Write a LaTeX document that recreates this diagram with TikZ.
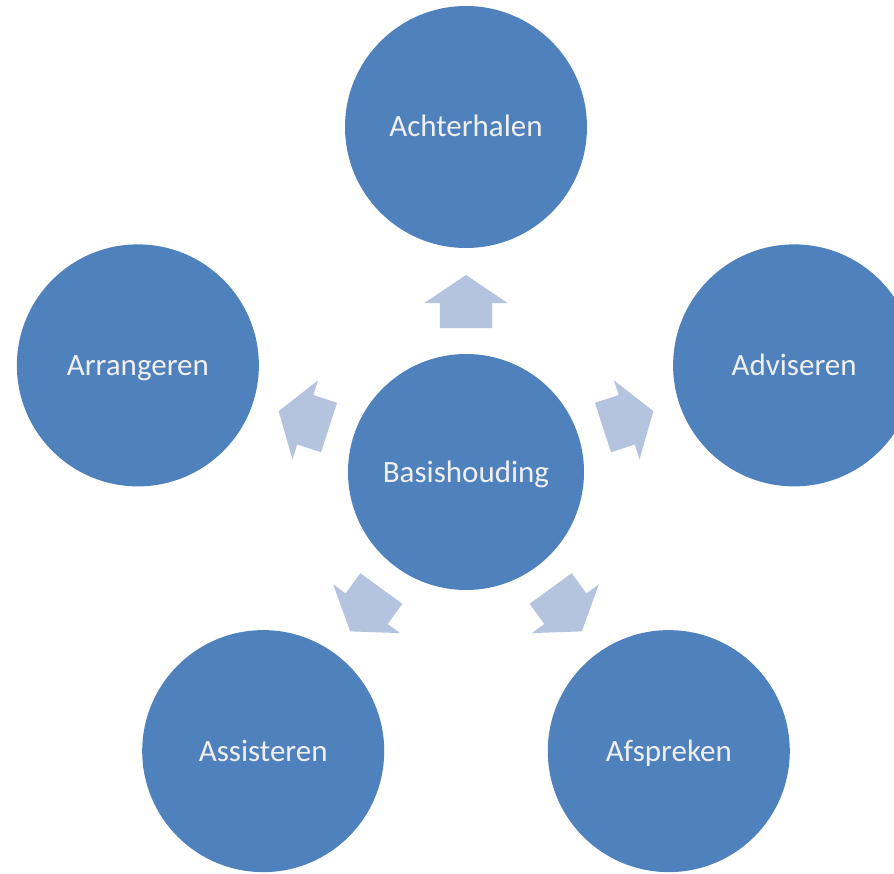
\documentclass[tikz,border=0pt]{standalone}
\usepackage{fontspec}
\setmainfont{Carlito}
\usetikzlibrary{calc}
\definecolor{cirkelblauw}{HTML}{4F81BD}
\definecolor{pijlblauw}{HTML}{B4C3DE}
\tikzset{
    cirkel/.style={circle, fill=cirkelblauw, text=white!94!black, minimum size=242pt, inner sep=0pt, text height=20pt, text depth=0pt, font=\fontsize{31}{37}\selectfont},
    pijl/.style={fill=pijlblauw}
}
\begin{document}
\begin{tikzpicture}[x=1pt,y=1pt]
        \useasboundingbox (-466,-401) rectangle (428,472);
        \node[cirkel, minimum size=236pt] (basis) at (0,0) {Basishouding};
        % outer circles with a block arrow pointing at each
        \foreach \a/\n/\l in {90/achter/Achterhalen,18/advis/Adviseren,162/arrang/Arrangeren,234/assist/Assisteren,306/afspr/Afspreken}{
            \node[cirkel] (\n) at ($(basis)+(\a:345)$) {\l};
            \fill[pijl, shift={(basis)}, rotate=\a-90] (-26,144) -- (-26,169) -- (-41.5,169) -- (0,197) -- (41.5,169) -- (26,169) -- (26,144) -- cycle;
        }
    \end{tikzpicture}
\end{document}
